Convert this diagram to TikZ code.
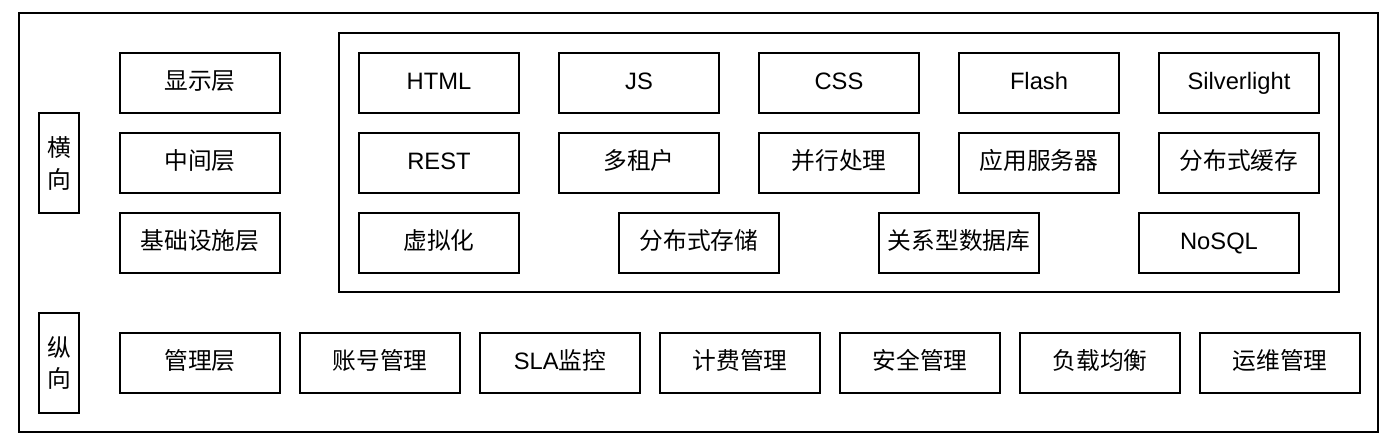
\documentclass[tikz,border=0pt]{standalone}
\usepackage{fontspec}
\setmainfont{Liberation Sans}
\newfontfamily\cjk{Noto Sans CJK SC}
\usepackage{tikz}
\usetikzlibrary{positioning}

\begin{document}
\begin{tikzpicture}
		\tikzstyle{layer}=[rectangle, draw, line width=1.1pt, minimum width=3.2cm, minimum height=1.2cm, inner sep=0pt, outer sep=0pt, text height=0.75em, text depth=0pt, font=\fontsize{13.5}{18}\selectfont]
		\tikzstyle{axis}=[rectangle, draw, line width=1.1pt, minimum width=0.8cm, minimum height=2cm, inner sep=0pt, align=center, font=\fontsize{13.5}{18.2}\selectfont\cjk]
		\tikzstyle{frame}=[draw, line width=1.1pt]

		\useasboundingbox (0,0) rectangle (27.76,-8.84);

		% outer and inner frames
		\draw[frame] (0.38,-0.26) rectangle (27.56,-8.64);
		\draw[frame] (6.78,-0.66) rectangle (26.78,-5.84);

		% axes
		\node[axis] (heng) at (1.18,-3.26) {横\\向};
		\node[axis] (zong) at (1.18,-7.26) {纵\\向};

		% horizontal layers
		\node[layer] (show) at (4.0,-1.66) {\cjk 显示层};
		\node[layer, below=0.4cm of show] (middle) {\cjk 中间层};
		\node[layer, below=0.4cm of middle] (infra) {\cjk 基础设施层};

		% display layer
		\node[layer] (html) at (8.78,-1.66) {HTML};
		\node[layer, right=0.8cm of html] (js) {JS};
		\node[layer, right=0.8cm of js] (css) {CSS};
		\node[layer, right=0.8cm of css] (flash) {Flash};
		\node[layer, right=0.8cm of flash] (silver) {Silverlight};

		% middle layer
		\node[layer, below=0.4cm of html] (rest) {REST};
		\node[layer, right=0.8cm of rest] (tenant) {\cjk 多租户};
		\node[layer, right=0.8cm of tenant] (parallel) {\cjk 并行处理};
		\node[layer, right=0.8cm of parallel] (appserver) {\cjk 应用服务器};
		\node[layer, right=0.8cm of appserver] (cache) {\cjk 分布式缓存};

		% infrastructure layer
		\node[layer, below=0.4cm of rest] (virt) {\cjk 虚拟化};
		\node[layer, right=2cm of virt] (storage) {\cjk 分布式存储};
		\node[layer, right=2cm of storage] (rdb) {\cjk 关系型数据库};
		\node[layer, right=2cm of rdb] (nosql) {NoSQL};

		% management layer
		\node[layer] (manage) at (4.0,-7.26) {\cjk 管理层};
		\node[layer, right=0.4cm of manage] (account) {\cjk 账号管理};
		\node[layer, right=0.4cm of account] (sla) {SLA{\cjk 监控}};
		\node[layer, right=0.4cm of sla] (billing) {\cjk 计费管理};
		\node[layer, right=0.4cm of billing] (security) {\cjk 安全管理};
		\node[layer, right=0.4cm of security] (balance) {\cjk 负载均衡};
		\node[layer, right=0.4cm of balance] (ops) {\cjk 运维管理};

	\end{tikzpicture}
\end{document}
